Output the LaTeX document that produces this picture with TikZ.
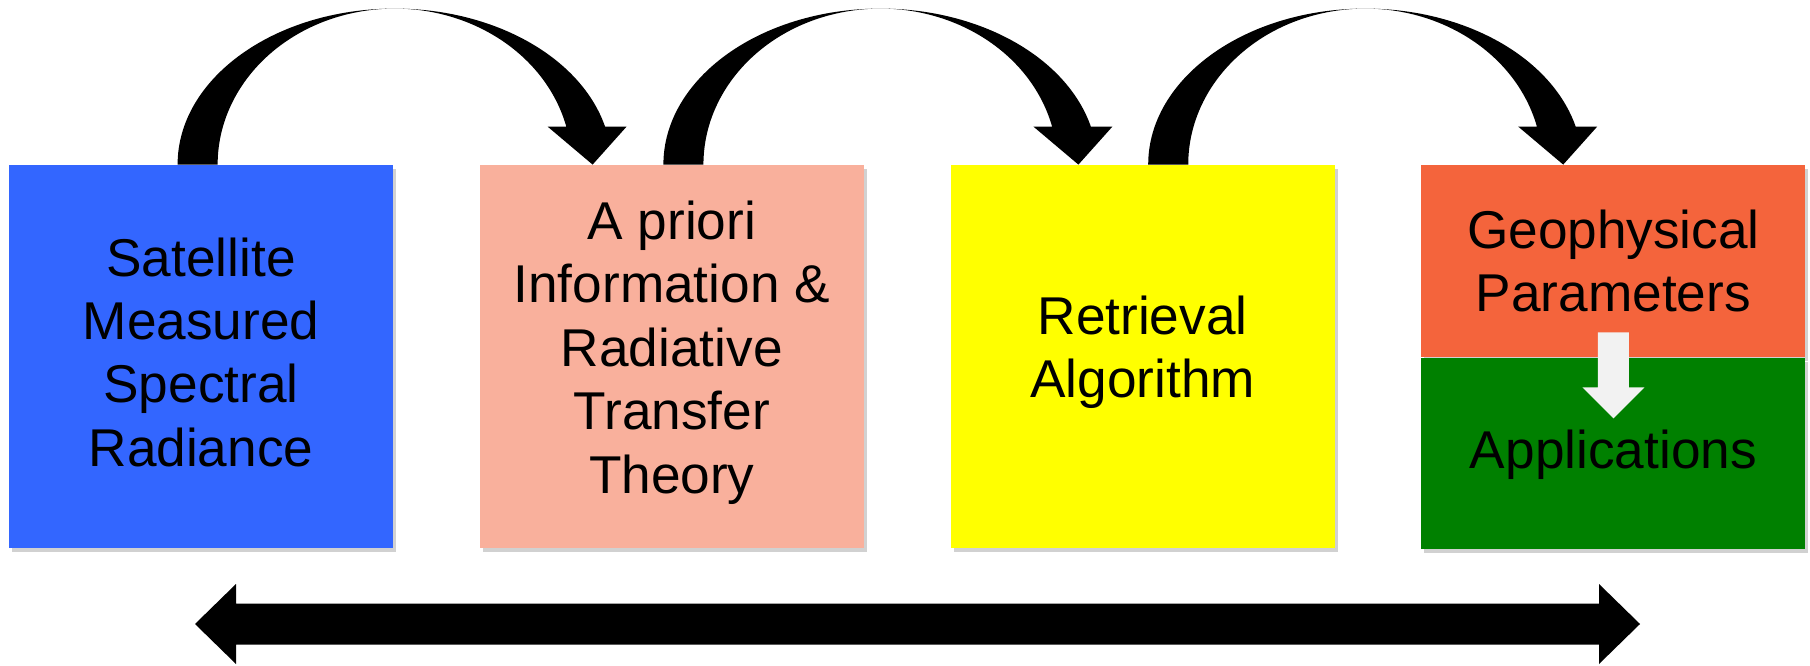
\documentclass[tikz,border=0pt]{standalone}
\usepackage{fontspec}
\setmainfont{Liberation Sans}
\usetikzlibrary{positioning, calc, shadows}
\definecolor{satblue}{HTML}{3366FF}
\definecolor{priorpink}{HTML}{F9B09C}
\definecolor{algoyellow}{HTML}{FFFF00}
\definecolor{georange}{HTML}{F4643C}
\definecolor{appgreen}{HTML}{008000}
\definecolor{hintgray}{HTML}{F2F2F2}

\begin{document}
\begin{tikzpicture}[
      x=0.5pt, y=0.5pt,
      panel/.style={minimum width=192pt, minimum height=191.5pt, inner sep=0pt,
        align=center, text depth=9.5pt, font=\fontsize{26.6}{31.7}\selectfont,
        drop shadow={shadow xshift=1.5pt, shadow yshift=-2pt,
          fill=black!60, opacity=0.3}},
      hoparrow/.pic={
        \fill (-217,0) arc[start angle=180, end angle=14.1,
            x radius=108.5pt, y radius=78pt]
          -- (232,38) -- (198,0) -- (153,38) -- (171.7,38)
          arc[start angle=14.1, end angle=180,
            x radius=88.5pt, y radius=78pt] -- cycle;
      }
    ]
      \useasboundingbox (0,0) rectangle (1810,665);

      \node[panel, fill=satblue, text depth=4.5pt] (sat) at (201,308.5)
        {Satellite\\Measured\\Spectral\\Radiance};
      \node[panel, fill=priorpink, right=43pt of sat] (info)
        {A priori\\Information \&\\Radiative\\Transfer\\Theory};
      \node[panel, fill=algoyellow, right=43pt of info] (algo)
        {Retrieval\\Algorithm};
      \node[panel, fill=georange, minimum height=96pt, text depth=-4.5pt,
        right=43pt of algo.north east, anchor=north west] (geo)
        {Geophysical\\Parameters};
      \node[panel, fill=appgreen, minimum height=95.5pt, text depth=4pt,
        below=0pt of geo] (apps) {Applications};

      % hops between the stages
      \pic at ($(sat.north west)+(386,0)$) {hoparrow};
      \pic at ($(info.north west)+(401,0)$) {hoparrow};
      \pic at ($(algo.north west)+(415,0)$) {hoparrow};

      % parameters feed the applications
      \fill[hintgray] ($(geo.south)+(-15.5,25)$) -- ++(31,0) -- ++(0,-55)
        -- ++(15.5,0) -- ($(apps.north)+(0,-61)$) -- ++(-31,31)
        -- ++(15.5,0) -- cycle;

      % two-way arrow under the chain
      \coordinate (leftend) at (195,41);
      \coordinate (rightend) at (1640,41);
      \fill (leftend) -- ++(41,40) -- ++(0,-19.5)
        -- ($(rightend)+(-41,20.5)$) -- ++(0,19.5) -- (rightend)
        -- ++(-41,-40) -- ++(0,19.5) -- ($(leftend)+(41,-20.5)$)
        -- ++(0,-19.5) -- cycle;
    \end{tikzpicture}
\end{document}
